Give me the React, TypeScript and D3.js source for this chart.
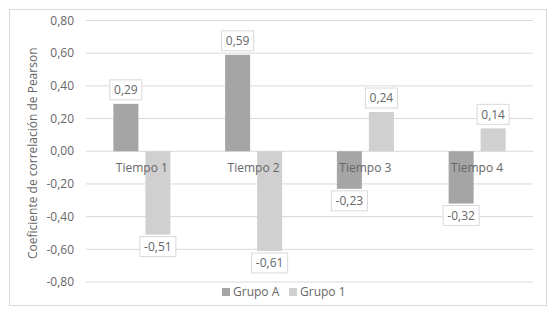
import React from "react";
import * as d3 from "d3";

const categories = ["Tiempo 1", "Tiempo 2", "Tiempo 3", "Tiempo 4"];
const grupoA = [0.29, 0.59, -0.23, -0.32];
const grupo1 = [-0.51, -0.61, 0.24, 0.14];
const seriesNames = ["Grupo A", "Grupo 1"];
const yTicks = [0.8, 0.6, 0.4, 0.2, 0, -0.2, -0.4, -0.6, -0.8];

const W = 556, H = 309;
const left = 86, right = 533, top = 20.5, bottom = 282;
const font = "'Open Sans', sans-serif";
const textColor = "#666666";
const colors = ["#A5A5A5", "#D0D0D0"];

const fmt = (v: number) => d3.format(".2f")(v).replace(".", ",").replace("−", "-");

export default function App() {
  const x = d3.scaleBand().domain(categories).range([left, right]).paddingInner(0).paddingOuter(0);
  const y = d3.scaleLinear().domain([-0.8, 0.8]).range([bottom, top]);
  const barW = 25, gap = 7;
  const series = [grupoA, grupo1];
  return (
    <svg width={W} height={H} style={{ position: "absolute", left: 0, top: 0 }}>
      <rect x={0} y={0} width={W} height={H} fill="#fff" />
      <rect x={9.5} y={9.5} width={537} height={296} fill="#fff" stroke="#D9D9D9" />
      {yTicks.map((t) => (
        <g key={t}>
          <line x1={left} x2={right} y1={y(t)} y2={y(t)} stroke="#D9D9D9" strokeWidth={1} />
          <text x={74} y={y(t)} dy="0.35em" textAnchor="end" fontFamily={font} fontSize={12} fill={textColor}>
            {fmt(t)}
          </text>
        </g>
      ))}
      {series.map((vals, si) =>
        vals.map((v, i) => {
          const cx = (x(categories[i]) as number) + x.bandwidth() / 2;
          const bx = si === 0 ? cx - gap / 2 - barW : cx + gap / 2;
          const y0 = y(Math.max(0, v));
          const h = Math.abs(y(v) - y(0));
          return <rect key={`${si}-${i}`} x={bx} y={y0} width={barW} height={h} fill={colors[si]} />;
        })
      )}
      {categories.map((c) => (
        <text key={c} x={(x(c) as number) + x.bandwidth() / 2} y={168} dy="0.35em" textAnchor="middle" fontFamily={font} fontSize={12} fill={textColor}>
          {c}
        </text>
      ))}
      {series.map((vals, si) =>
        vals.map((v, i) => {
          const cx = (x(categories[i]) as number) + x.bandwidth() / 2;
          const bcx = si === 0 ? cx - gap / 2 - barW / 2 : cx + gap / 2 + barW / 2;
          const label = fmt(v);
          const bw = v < 0 ? 36 : 32;
          const bh = 20;
          const by = v >= 0 ? y(v) - 4 - bh : y(v) + 2;
          return (
            <g key={`l${si}-${i}`}>
              <rect x={bcx - bw / 2} y={by} width={bw} height={bh} fill="#fff" stroke="#D9D9D9" />
              <text x={bcx} y={by + bh / 2} dy="0.35em" textAnchor="middle" fontFamily={font} fontSize={12} fill={textColor}>
                {label}
              </text>
            </g>
          );
        })
      )}
      <text transform={`translate(33,${(top + bottom) / 2 + 2}) rotate(-90)`} textAnchor="middle" dy="0.35em" fontFamily={font} fontSize={12} fill={textColor}>
        Coeficiente de correlación de Pearson
      </text>
      {seriesNames.map((n, si) => (
        <g key={n} transform={`translate(${si === 0 ? 222 : 289},292)`}>
          <rect x={0} y={-4} width={8} height={8} fill={colors[si]} />
          <text x={11} y={0} dy="0.35em" fontFamily={font} fontSize={12} fill={textColor}>{n}</text>
        </g>
      ))}
    </svg>
  );
}
